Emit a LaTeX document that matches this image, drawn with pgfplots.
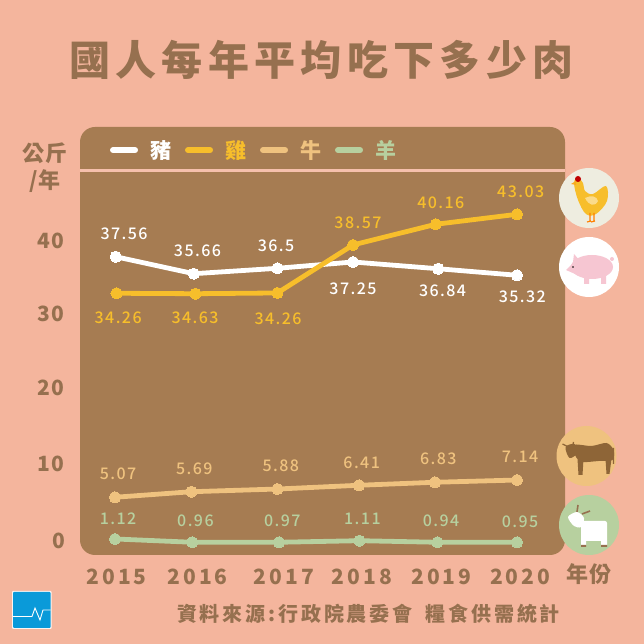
\documentclass[border=0pt]{standalone}
\usepackage{fontspec}
\usepackage{pgfplots}
\usepackage{pgfplotstable}
\pgfplotsset{compat=1.18}
\setmainfont{Noto Sans CJK TC}
\newfontfamily\numf{Noto Sans CJK TC Medium}

\definecolor{bgc}{HTML}{F4B59D}
\definecolor{panel}{HTML}{A67C52}
\definecolor{txt}{HTML}{96704F}
\definecolor{chick}{HTML}{F7BE2B}
\definecolor{beef}{HTML}{EFC27F}
\definecolor{lamb}{HTML}{B7D09F}
\definecolor{cow}{HTML}{8E6537}
\definecolor{piggy}{HTML}{F6C6D2}

% x y label, then label offset from the point
\pgfplotstableread{
x       y     lab    dx    dy
2015.01 37.90 37.56   8.3  23.4
2015.98 35.64 35.66   3.7  22.7
2017.02 36.36 36.5   -1.3  22.3
2017.96 37.20 37.25   0.0 -27.0
2019.02 36.30 36.84   4.3 -22.3
2020.00 35.43 35.32   5.3 -21.4
}\pork
\pgfplotstableread{
x       y     lab    dx    dy
2015.02 33.03 34.26   1.6 -24.7
2016.00 32.97 34.63  -0.3 -24.3
2017.02 33.07 34.26   0.7 -25.7
2017.96 39.47 38.57   5.0  22.3
2018.99 42.23 40.16   5.0  21.0
2020.00 43.56 43.03   3.7  22.6
}\chicken
\pgfplotstableread{
x       y     lab    dx    dy
2015.00 5.83  5.07    3.0  23.3
2015.95 6.57  5.69    3.0  23.0
2017.02 6.93  5.88    3.4  23.3
2018.035 7.43  6.41    2.7  22.6
2018.98 7.83  6.83    3.4  23.3
2020.00 8.13  7.14    3.0  23.3
}\beefT
\pgfplotstableread{
x       y     lab    dx    dy
2015.00  0.27 1.12    3.0  20.0
2015.96 -0.17 0.96    3.3  21.0
2017.04 -0.17 0.97    3.4  21.0
2018.04  0.04 1.11    3.0  21.4
2019.01 -0.17 0.94    3.7  21.0
2020.00 -0.17 0.95    3.0  20.6
}\lambT

\newcommand{\ser}[3]{%
  \addplot[color=#1, line width=4.8pt, mark=*, mark size=5.6pt,
    mark options={fill=#1, draw=#1, line width=0pt},
    nodes near coords,
    point meta=explicit symbolic,
    visualization depends on={\thisrow{dx} \as \ldx},
    visualization depends on={\thisrow{dy} \as \ldy},
    every node near coord/.append style={anchor=center, inner sep=0pt,
      text=#1, font=\fontsize{16}{16}\selectfont\numf\addfontfeatures{LetterSpace=9},
      xshift=\ldx pt, yshift=\ldy pt}]
    table[x=x, y=y, meta=lab] {#2};
  \addlegendentry{\hspace{10pt}\textcolor{#1}{\fontsize{21}{21}\selectfont\bfseries #3}}
}

\newcommand{\badge}[4]{% centre x, centre y (from the top), fill, drawing
  \fill[#3] (#1,{644-#2}) circle (30pt);
  \begin{scope}[shift={(#1,{644-#2})}, yscale=-1]#4\end{scope}
}

\begin{document}
\begin{tikzpicture}[x=1pt,y=1pt]
\useasboundingbox (0,0) rectangle (644,644);
\fill[bgc] (0,0) rectangle (644,644);
\fill[panel, rounded corners=15pt] (80,89) rectangle (565,517);
\fill[bgc!85!white] (80,472) rectangle (565,474.5);

\node[text=txt, font=\fontsize{41}{41}\selectfont\bfseries\addfontfeatures{LetterSpace=13}] at (321.5,584) {國人每年平均吃下多少肉};
\node[text=txt, font=\fontsize{22}{22}\selectfont\bfseries\addfontfeatures{LetterSpace=3}] at (45,491) {公斤};
\node[text=txt, font=\fontsize{22}{22}\selectfont\bfseries\addfontfeatures{LetterSpace=3}] at (45,463) {/年};
\node[text=txt, font=\fontsize{22}{22}\selectfont\bfseries\addfontfeatures{LetterSpace=3}] at (589,70) {年份};
\node[text=txt, font=\fontsize{20}{20}\selectfont\bfseries\addfontfeatures{LetterSpace=14}] at (368.5,30) {資料來源\hspace{3pt}:\hspace{3pt}行政院農委會\hspace{6pt} 糧食供需統計};

\begin{axis}[
  at={(80pt,89pt)}, anchor=south west,
  scale only axis, width=485pt, height=428pt,
  xmin=2014.565, xmax=2020.597, ymin=-1.867, ymax=55.2,
  clip=false,
  axis line style={draw=none},
  major tick style={draw=none},
  xtick={2015.02,2016.03,2017.10,2018.07,2019.06,2020.04},
  xticklabels={2015,2016,2017,2018,2019,2020},
  ytick={0,10.27,20.4,30.27,40},
  yticklabels={0,10,20,30,40},
  x tick label style={anchor=center, yshift=-22pt, inner sep=0pt,
    text=txt, font=\fontsize{21}{21}\selectfont\bfseries\addfontfeatures{LetterSpace=14}},
  y tick label style={anchor=east, xshift=-15pt, inner sep=0pt,
    text=txt, font=\fontsize{21}{21}\selectfont\bfseries\addfontfeatures{LetterSpace=10}},
  legend columns=4,
  legend cell align=left,
  legend style={at={(0.0619,0.946)}, anchor=west, draw=none, fill=none,
    inner sep=0pt, outer sep=0pt, /tikz/every even column/.style={column sep=12pt}},
  legend image code/.code={\draw[#1, line width=6pt, line cap=round] (3pt,0pt) -- (25pt,0pt);},
]
\ser{white}{\pork}{豬}
\ser{chick}{\chicken}{雞}
\ser{beef}{\beefT}{牛}
\ser{lamb}{\lambT}{羊}
\end{axis}

\badge{589}{198}{white!75!lamb!90!bgc}{%
  \fill[chick] plot[smooth cycle, tension=.6] coordinates {(-15,-15) (-11,-20) (-6,-15) (-4,-7) (4,-4) (17,-12) (18,3) (7,16) (-3,16) (-11,2)};
  \fill[chick!70!orange] (-18,-14) -- (-13,-17) -- (-13,-13) -- cycle;
  \fill[red!75!black] (-11,-19) circle (3pt);
  \fill[chick!55!white] (-4,0) .. controls (2,-3) and (8,-2) .. (9,3) .. controls (6,9) and (0,8) .. (-4,0) -- cycle;
  \draw[orange, line width=1.2pt] (1,15) -- (1,23) (5,15) -- (5,23) (-2,24) -- (2,23) (2,24) -- (6,23);
}
\badge{589}{267}{white}{%
  \fill[piggy] (3,0) ellipse (21pt and 12pt);
  \fill[piggy] (-23,3) -- (-12,-8) -- (-7,10) -- cycle;
  \fill[piggy] (-16,-5) -- (-15,-13) -- (-9,-6) -- cycle;
  \fill[piggy] (-5,8) rectangle (0,17) (12,8) rectangle (17,17);
  \fill[piggy] (23,-8) circle (2pt);
  \fill[black] (-16,0) circle (.8pt);
}
\badge{586.5}{456}{beef}{%
  \fill[cow] plot[smooth cycle, tension=.5] coordinates {(-13,-11) (5,-10) (20,-13) (27,-6) (26,4) (12,5) (-3,6) (-10,2)};
  \fill[cow] plot[smooth cycle] coordinates {(-21,-9) (-12,-12) (-9,-3) (-17,2)};
  \fill[cow] (-9,3) -- (-3,3) -- (-4,19) -- (-8,19) -- cycle (19,3) -- (25,3) -- (23,18) -- (20,18) -- cycle;
  \draw[cow, line width=1.2pt] (-24,-12) -- (-18,-9) (-13,-14) -- (-14,-9) (27,-8) -- (27,8);
}
\badge{589}{525}{lamb}{%
  \draw[txt, line width=1.6pt] (-12,-13) -- (-11,-20) (-7,-11) -- (1,-14);
  \fill[white] plot[smooth cycle] coordinates {(-21,-8) (-12,-13) (-5,-7) (-8,2) (-15,1)};
  \fill[white, rounded corners=2pt] (-8,-4) rectangle (18,16);
  \fill[white] (-8,14) rectangle (-3,20) (12,14) rectangle (18,20);
  \fill[txt] (-8,20) rectangle (-3,22) (12,20) rectangle (18,22);
}

% logo
\fill[white!85!bgc, rounded corners=1pt] (12,15) rectangle (51.5,53);
\definecolor{logoc}{HTML}{0A9AD9}
\fill[logoc, rounded corners=1pt] (13,16) rectangle (50.5,52);
\draw[white, line width=.9pt] (13,27.5) -- (32,27.5) -- (35,36) -- (40,24) -- (43,34) -- (50.5,34);
\end{tikzpicture}
\end{document}
